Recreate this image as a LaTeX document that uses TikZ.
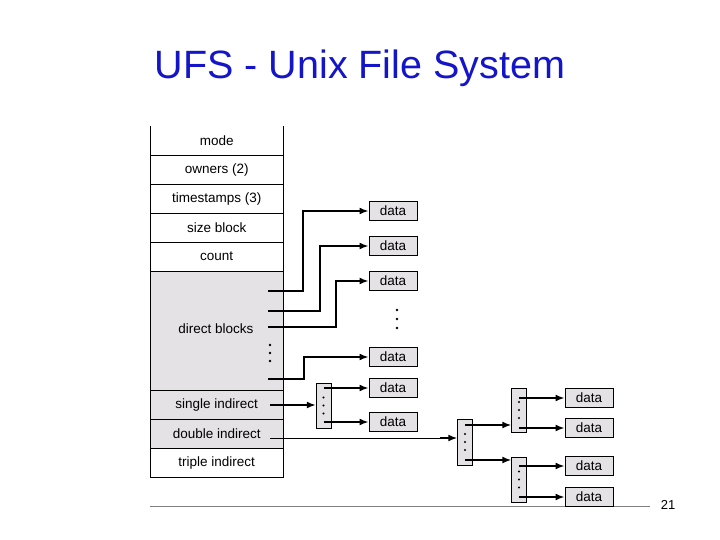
\documentclass[tikz,border=0pt]{standalone}
\usepackage{fontspec}
\setmainfont{Liberation Sans}
\usetikzlibrary{arrows.meta}
\definecolor{cellgrey}{RGB}{228,226,228}
\definecolor{titleblue}{RGB}{20,20,200}
\tikzset{
  row/.style={draw, minimum width=133pt, minimum height=29pt, inner sep=0pt, font=\fontsize{13.5}{13.5}\selectfont, anchor=north west},
  datab/.style={draw, line width=1pt, fill=cellgrey, minimum width=48pt, minimum height=19pt, inner sep=0pt, font=\fontsize{13.5}{13.5}\selectfont},
  iblock/.style={draw, fill=cellgrey, minimum width=15pt, inner sep=0pt},
  ptr/.style={line width=1.6pt, -{Latex[length=9pt,width=7pt]}},
  vdots/.style={fill, circle, inner sep=0pt, minimum size=2.6pt}
}
\begin{document}
\begin{tikzpicture}[x=1pt, y=-1pt]
\useasboundingbox (0,0) rectangle (720,540);
\node[titleblue, font=\fontsize{39.5}{39.5}\selectfont] (title) at (360,68) {UFS - Unix File System};
% inode
\node[row] (mode) at (150,126) {mode};
\node[row] (owners) at (150,155) {owners (2)};
\node[row] (times) at (150,184) {timestamps (3)};
\node[row] (size) at (150,213) {size block};
\node[row] (count) at (150,242) {count};
\node[row, fill=cellgrey, minimum height=119pt] (direct) at (150,271) {};
\node[font=\fontsize{13.5}{13.5}\selectfont] (directlbl) at (216,329) {direct blocks};
\node[row, fill=cellgrey] (single) at (150,390) {single indirect};
\node[row, fill=cellgrey] (double) at (150,419) {double indirect};
\node[row] (triple) at (150,448) {triple indirect};
\draw[white, line width=1.5pt] (150.5,127) -- (282.5,127);
\draw[gray] (150,506) -- (650,506);
% data blocks
\foreach \n/\y in {d1/211, d2/246, d3/281, d4/357, s1/388, s2/422}
  \node[datab] (\n) at (393,\y) {data};
\foreach \n/\y in {t1/398, t2/428, t3/466, t4/497}
  \node[datab] (\n) at (589,\y) {data};
\foreach \y in {310,319,328} \node[vdots] at (397,\y) {};
\foreach \y in {345,353,361} \node[vdots] at (270,\y) {};
% indirect blocks
\node[iblock, minimum height=45pt] (ib1) at (323.5,405.5) {};
\node[iblock, minimum height=46pt] (ib2) at (465,442) {};
\node[iblock, minimum height=44pt] (ib3) at (519,410) {};
\node[iblock, minimum height=45pt] (ib4) at (519,479.5) {};
\foreach \b in {ib1,ib2,ib3,ib4}
  \foreach \d in {-8,0,8} \node[vdots, minimum size=2.2pt] at ([yshift=\d pt]\b.center) {};
% pointers
\coordinate (p1) at (268,291);
\coordinate (p2) at (268,311);
\coordinate (p3) at (268,327);
\coordinate (p4) at (268,379);
\draw[ptr] (p1) -- (303,291) |- (d1.west);
\draw[ptr] (p2) -- (320,311) |- (d2.west);
\draw[ptr] (p3) -- (336,327) |- (d3.west);
\draw[ptr] (p4) -- (304,379) |- (d4.west);
\coordinate (ps) at (270,405);
\coordinate (pd) at (270,438);
\draw[ptr] (ps) -- (ib1.west |- ps);
\draw[ptr] (ib1.center |- s1) -- (s1.west);
\draw[ptr] (ib1.center |- s2) -- (s2.west);
\draw[line width=0.8pt] (pd) -- (440,438);
\draw[ptr] (440,438) -- (ib2.west |- pd);
\draw[ptr] (465,425) -- (ib3.west |- 465,425);
\draw[ptr] (465,460) -- (ib4.west |- 465,460);
\foreach \t in {t1,t2} \draw[ptr] (ib3.center |- \t) -- (\t.west);
\foreach \t in {t3,t4} \draw[ptr] (ib4.center |- \t) -- (\t.west);
\node[font=\fontsize{13}{13}\selectfont] (pagenum) at (668,505) {21};
\end{tikzpicture}
\end{document}
